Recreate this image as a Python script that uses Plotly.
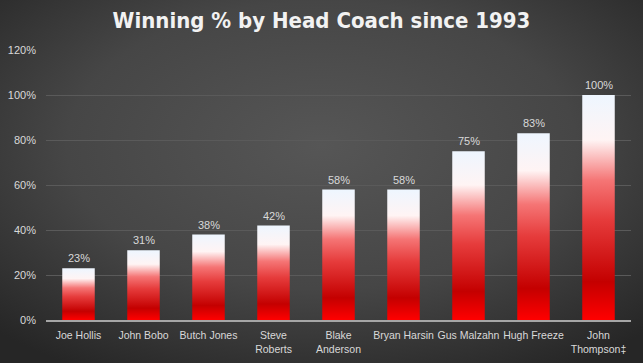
import plotly.graph_objects as go
import base64

coaches = ["Joe Hollis", "John Bobo", "Butch Jones", "Steve<br>Roberts", "Blake<br>Anderson",
           "Bryan Harsin", "Gus Malzahn", "Hugh Freeze", "John<br>Thompson‡"]
win_pct = [0.23, 0.31, 0.38, 0.42, 0.58, 0.58, 0.75, 0.83, 1.00]
y_ticks = [0, 0.2, 0.4, 0.6, 0.8, 1.0, 1.2]
y_tick_labels = ["0%", "20%", "40%", "60%", "80%", "100%", "120%"]

BAR_W = 0.5
grad = [[0.0, "#ff0000"], [0.17, "#c40000"], [0.45, "#e63c3c"], [0.62, "#f57575"],
        [0.8, "#fff4f4"], [1.0, "#eef6ff"]]

fig = go.Figure()
for i, (name, v) in enumerate(zip(coaches, win_pct)):
    x0, x1 = i - BAR_W / 2, i + BAR_W / 2
    fig.add_trace(go.Scatter(
        x=[x0, x1, x1, x0, x0], y=[0, 0, v, v, 0],
        mode="lines", line=dict(width=0), fill="toself",
        fillgradient=dict(type="vertical", colorscale=grad),
        hoverinfo="skip", showlegend=False))

annotations = [dict(x=i, y=v, xref="x", yref="y", text=f"{round(v*100)}%",
                    showarrow=False, yanchor="bottom", yshift=2,
                    font=dict(color="#d9d9d9", size=11, family="Liberation Sans"))
               for i, v in enumerate(win_pct)]

svg = ('<svg xmlns="http://www.w3.org/2000/svg" width="643" height="363">'
       '<defs><radialGradient id="g" cx="50%" cy="40%" r="72%">'
       '<stop offset="0" stop-color="#565656"/><stop offset="0.55" stop-color="#464646"/>'
       '<stop offset="1" stop-color="#262626"/></radialGradient></defs>'
       '<rect width="643" height="363" fill="url(#g)"/></svg>')
src = "data:image/svg+xml;base64," + base64.b64encode(svg.encode()).decode()

fig.update_layout(
    width=643, height=363,
    paper_bgcolor="#3c3c3c", plot_bgcolor="rgba(0,0,0,0)",
    margin=dict(l=46, r=12, t=50, b=43, autoexpand=False),
    title=dict(text="<b>Winning % by Head Coach since 1993</b>", x=0.5, xanchor="center",
               y=0.945, yanchor="middle",
               font=dict(family="DejaVu Sans Condensed, Roboto, sans-serif", size=22,
                         color="#f2f2f2")),
    annotations=annotations,
    images=[dict(source=src, xref="paper", yref="paper", x=-46/585, y=1+50/270,
                 sizex=643/585, sizey=363/270, xanchor="left", yanchor="top",
                 sizing="stretch", layer="below")],
    xaxis=dict(range=[-0.5, len(coaches) - 0.5], tickvals=list(range(len(coaches))),
               ticktext=coaches, showgrid=False, zeroline=False, tickangle=0,
               showline=True, linecolor="#a6a6a6", linewidth=1.5, automargin=False,
               tickfont=dict(color="#d9d9d9", size=10.5, family="Liberation Sans"),
               ticks="", ticklabelstandoff=5, fixedrange=True),
    yaxis=dict(range=[0, 1.2], tickvals=y_ticks, ticktext=y_tick_labels,
               showgrid=True, gridcolor="#5a5a5a", gridwidth=1, zeroline=False,
               automargin=False,
               tickfont=dict(color="#d9d9d9", size=11, family="Liberation Sans"),
               ticks="", ticklabelstandoff=9, fixedrange=True),
)

fig.write_html("out.html")
